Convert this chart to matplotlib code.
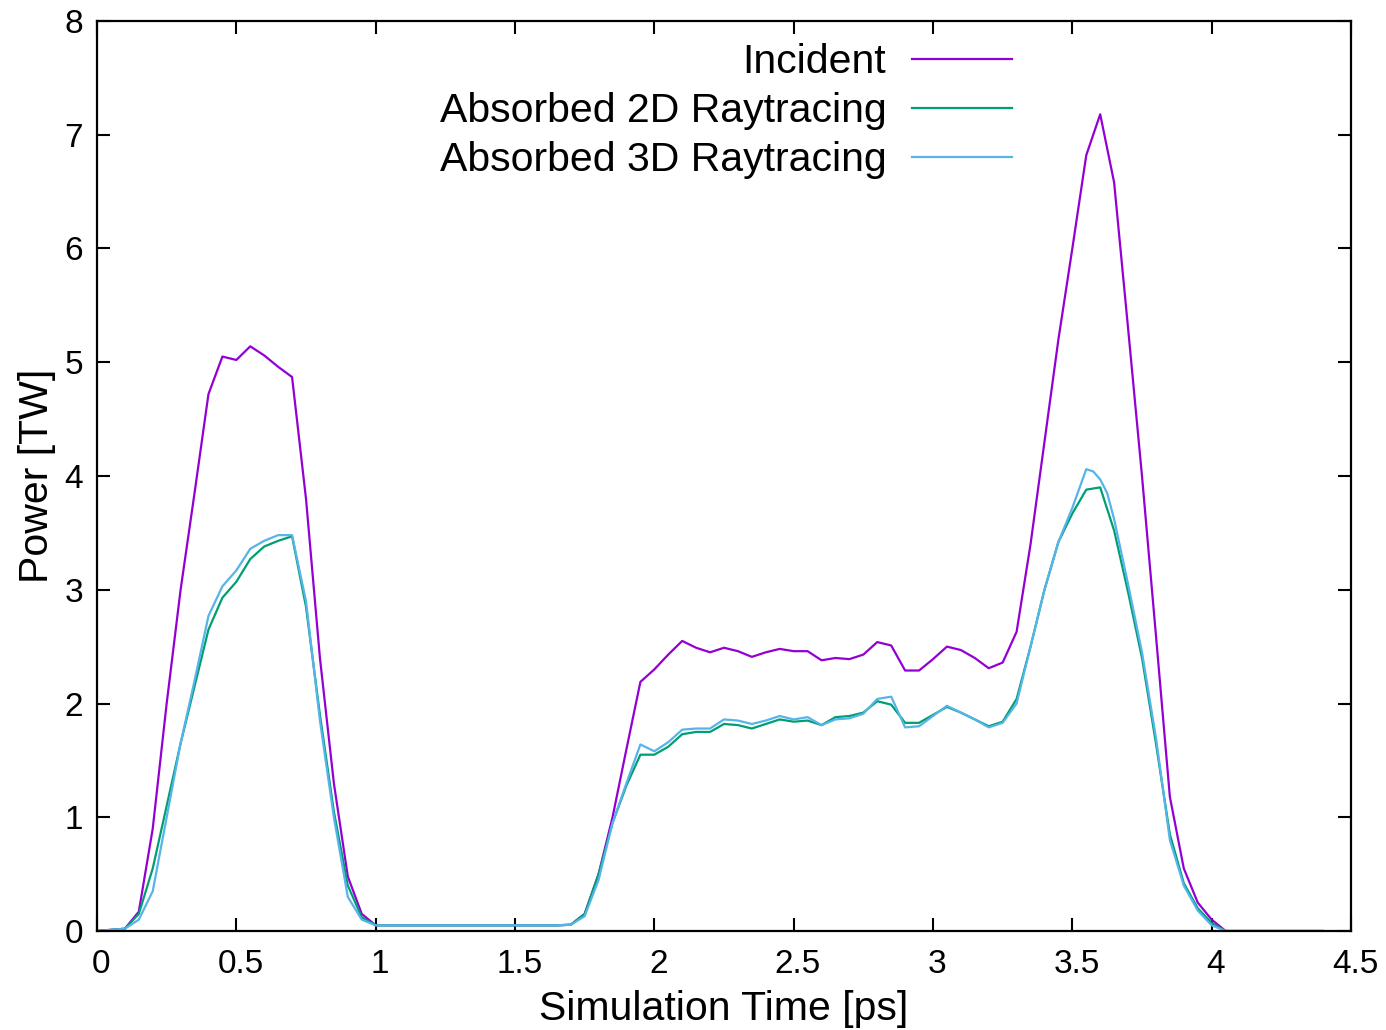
import numpy as np
import matplotlib
matplotlib.use("Agg")
import matplotlib.pyplot as plt
import matplotlib.transforms as mtransforms

plt.rcParams['font.family'] = ['Liberation Sans', 'DejaVu Sans']

# time grid [ps], step 0.05 from 0 to 4.4
time_ps = [round(0.05 * i, 2) for i in range(89)]

incident = [
    0.00, 0.01, 0.02, 0.17, 0.90, 2.00, 3.00, 3.85, 4.72, 5.05,   # 0.00-0.45
    5.02, 5.14, 5.06, 4.96, 4.87, 3.80, 2.40, 1.30, 0.48, 0.15,   # 0.50-0.95
    0.05, 0.05, 0.05, 0.05, 0.05, 0.05, 0.05, 0.05, 0.05, 0.05,   # 1.00-1.45
    0.05, 0.05, 0.05, 0.05, 0.055, 0.15, 0.50, 1.00, 1.60, 2.19,  # 1.50-1.95
    2.30, 2.43, 2.55, 2.49, 2.45, 2.49, 2.46, 2.41, 2.45, 2.48,   # 2.00-2.45
    2.46, 2.46, 2.38, 2.40, 2.39, 2.43, 2.54, 2.51, 2.29, 2.29,   # 2.50-2.95
    2.39, 2.50, 2.47, 2.40, 2.31, 2.36, 2.63, 3.40, 4.30, 5.20,   # 3.00-3.45
    6.00, 6.82, 7.18, 6.58, 5.30, 4.00, 2.60, 1.18, 0.55, 0.25,   # 3.50-3.95
    0.10, 0.00, 0.00, 0.00, 0.00, 0.00, 0.00, 0.00, 0.00,         # 4.00-4.40
]

absorbed_2d = [
    0.00, 0.01, 0.02, 0.15, 0.55, 1.10, 1.65, 2.15, 2.65, 2.93,
    3.07, 3.27, 3.38, 3.43, 3.47, 2.85, 1.90, 1.05, 0.40, 0.12,
    0.05, 0.05, 0.05, 0.05, 0.05, 0.05, 0.05, 0.05, 0.05, 0.05,
    0.05, 0.05, 0.05, 0.05, 0.055, 0.15, 0.50, 0.95, 1.28, 1.55,
    1.55, 1.62, 1.73, 1.75, 1.75, 1.82, 1.81, 1.78, 1.82, 1.86,
    1.84, 1.85, 1.81, 1.88, 1.89, 1.92, 2.02, 1.99, 1.83, 1.83,
    1.90, 1.97, 1.92, 1.86, 1.80, 1.84, 2.04, 2.50, 3.00, 3.42,
    3.67, 3.88, 3.90, 3.52, 2.98, 2.40, 1.65, 0.85, 0.42, 0.20,
    0.07, 0.00, 0.00, 0.00, 0.00, 0.00, 0.00, 0.00, 0.00,
]

# 3D raytracing output has a few extra samples around the second peak
time_3d = [round(0.05 * i, 2) for i in range(72)] + [3.575, 3.6, 3.625] + \
          [round(0.05 * i, 2) for i in range(73, 89)]
absorbed_3d = [
    0.00, 0.01, 0.02, 0.10, 0.35, 1.00, 1.65, 2.20, 2.77, 3.03,
    3.17, 3.36, 3.43, 3.48, 3.48, 2.90, 1.85, 1.00, 0.30, 0.10,
    0.05, 0.05, 0.05, 0.05, 0.05, 0.05, 0.05, 0.05, 0.05, 0.05,
    0.05, 0.05, 0.05, 0.05, 0.055, 0.13, 0.45, 0.95, 1.30, 1.64,
    1.58, 1.66, 1.77, 1.78, 1.78, 1.86, 1.85, 1.82, 1.85, 1.89,
    1.86, 1.88, 1.81, 1.86, 1.87, 1.91, 2.04, 2.06, 1.79, 1.80,
    1.89, 1.98, 1.92, 1.86, 1.79, 1.83, 2.00, 2.50, 3.00, 3.42,
    3.72, 4.06, 4.04, 3.97, 3.85, 3.62, 3.05, 2.45, 1.70, 0.80,
    0.40, 0.18, 0.05, 0.00, 0.00, 0.00, 0.00, 0.00, 0.00, 0.00,
    0.00,
]

series_labels = ["Incident", "Absorbed 2D Raytracing", "Absorbed 3D Raytracing"]
series_colors = ["#9400d3", "#009e73", "#56b4e9"]

x_ticks = [0, 0.5, 1, 1.5, 2, 2.5, 3, 3.5, 4, 4.5]
x_tick_labels = ["0", "0.5", "1", "1.5", "2", "2.5", "3", "3.5", "4", "4.5"]
y_ticks = [0, 1, 2, 3, 4, 5, 6, 7, 8]

fig = plt.figure(figsize=(13.86, 10.30), dpi=100)
ax = fig.add_axes([97 / 1386, 99 / 1030, 1254 / 1386, 910 / 1030])

ax.plot(time_ps, incident, color=series_colors[0], lw=1.6, label=series_labels[0])
ax.plot(time_ps, absorbed_2d, color=series_colors[1], lw=1.6, label=series_labels[1])
ax.plot(time_3d, absorbed_3d, color=series_colors[2], lw=1.6, label=series_labels[2])

ax.set_xlim(0, 4.5)
ax.set_ylim(0, 8)
ax.set_xticks(x_ticks)
ax.set_xticklabels(x_tick_labels)
ax.set_yticks(y_ticks)
ax.tick_params(direction='in', length=9.5, width=1.5, top=True, right=True,
               labelsize=24, colors='black')
ax.tick_params(axis='x', pad=13)
ax.tick_params(axis='y', pad=10)
for s in ax.spines.values():
    s.set_linewidth(1.6)

# gnuplot-like slight right shift of x tick labels
shift = mtransforms.ScaledTranslation(3 / 72, 0, fig.dpi_scale_trans)
for lbl in ax.get_xticklabels():
    lbl.set_transform(lbl.get_transform() + shift)

ax.set_xlabel("Simulation Time [ps]", fontsize=29.5, labelpad=7)
ax.set_ylabel("Power [TW]", fontsize=29.5, labelpad=6)

leg = ax.legend(loc='upper right', bbox_to_anchor=(0.7297, 0.9755), frameon=False,
                markerfirst=False, fontsize=29.5, handlelength=2.44, handletextpad=0.63,
                labelspacing=0.27, borderpad=0, borderaxespad=0)

fig.savefig("out.png", dpi=100)
